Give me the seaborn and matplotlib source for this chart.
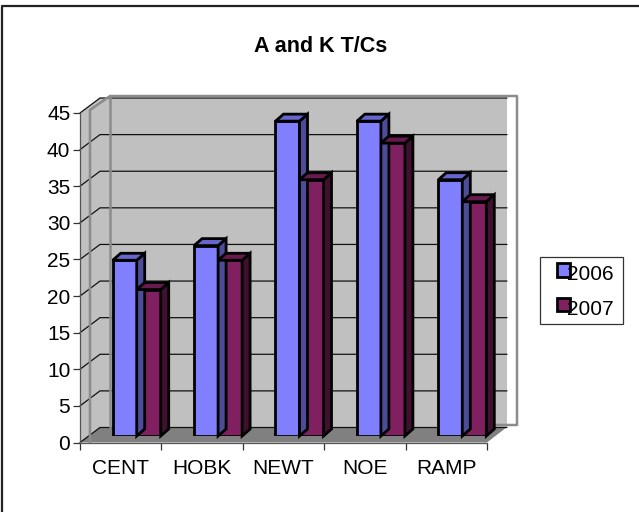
import pandas as pd
import matplotlib
matplotlib.use("Agg")
import matplotlib.pyplot as plt
from matplotlib.legend_handler import HandlerPatch
from matplotlib.patches import Polygon, Rectangle
import seaborn as sns

# values
sites = ["CENT", "HOBK", "NEWT", "NOE", "RAMP"]
vals_2006 = [24, 26, 43, 43, 35]
vals_2007 = [20, 24, 35, 40, 32]
y_ticks = [0, 5, 10, 15, 20, 25, 30, 35, 40, 45]

W, H = 639, 512
FONT = "Liberation Sans"
front = {"2006": "#8080FF", "2007": "#802060"}
top = {"2006": "#6666CC", "2007": "#661A4D"}
side = {"2006": "#4C4C99", "2007": "#40102F"}
BAR_LW = 2.0

sns.set_style("white")
plt.rcParams["font.family"] = FONT


def px_axes(fig, x0, y0, x1, y1):
    return fig.add_axes([x0 / W, 1 - y1 / H, (x1 - x0) / W, (y1 - y0) / H])


def raised_swatch(legend, orig_handle, xdescent, ydescent, width, height, fontsize):
    # swatches sit a little above the middle of the text
    return Rectangle((-xdescent, -ydescent + 2), width, height)


df = pd.DataFrame({
    "site": sites * 2,
    "year": ["2006"] * 5 + ["2007"] * 5,
    "n": vals_2006 + vals_2007,
})

fig = plt.figure(figsize=(W / 100, H / 100), dpi=100, facecolor="white")

# walls and floor, in pixels
bg = fig.add_axes([0, 0, 1, 1])
bg.set_xlim(0, W)
bg.set_ylim(H, 0)
bg.axis("off")
grey = "#C0C0C0"
bg.add_patch(Polygon([(100, 98), (507, 98), (507, 427), (100, 427)], fc=grey, ec="none"))
bg.add_patch(Polygon([(80, 113), (100, 98), (100, 427), (80, 442.5)], fc=grey, ec="none"))
for t in y_ticks:
    yy = 442.5 - t * 329.5 / 45
    bg.plot([80, 100, 507], [yy, yy - 15, yy - 15], color="#111111", lw=0.9)
# the pale frame sitting behind
bg.plot([90, 90, 110, 517, 517, 495], [442, 110, 96, 96, 425, 425], color="#8C8C8C", lw=1.8)
bg.plot([110, 110], [96, 427], color="#8C8C8C", lw=1.8)
bg.add_patch(Polygon([(80, 442.5), (100, 427), (507, 427), (487, 442.5)], fc="#808080", ec="none"))
# page border
bg.plot([1.5, 1.5, W], [H, 5.5, 5.5], color="#222222", lw=1.6)
# legend box
bg.add_patch(Rectangle((539.5, 257), 83, 67, fc="white", ec="#333333", lw=0.9))

# front axes carrying ticks
ax = px_axes(fig, 80, 113, 487, 442.5)
ax.patch.set_visible(False)
ax.set_xlim(0, 5)
ax.set_ylim(0, 45)
ax.set_yticks(y_ticks)
ax.set_xticks(range(6))
ax.set_xticklabels([])
ax.set_xticks([i + 0.5 for i in range(5)], minor=True)
ax.set_xticklabels(sites, minor=True, fontsize=15, fontfamily=FONT, color="black")
ax.tick_params(axis="x", which="major", length=5, width=0.9, color="#333333", bottom=True)
ax.tick_params(axis="x", which="minor", length=0, pad=12)
ax.tick_params(axis="y", length=5, width=0.9, color="#333333", left=True, pad=2, labelsize=15, labelcolor="black")
for s in ["top", "right"]:
    ax.spines[s].set_visible(False)
for s in ["left", "bottom"]:
    ax.spines[s].set_color("#555555")
    ax.spines[s].set_linewidth(0.9)

# bars sit a bit further back than the tick plane
bars = px_axes(fig, 96, 106.5, 503, 436)
bars.patch.set_visible(False)
sns.barplot(data=df, x="site", y="n", hue="year", palette=front, saturation=1,
            width=0.59, gap=0, edgecolor="black", linewidth=BAR_LW, ax=bars)
bars.set_xlim(-0.5, 4.5)
bars.set_ylim(0, 45)
bars.axis("off")

# 3d faces worked out from each bar
dx, dy = 8 * 5 / 407, 7 * 45 / 329.5
years = ["2006"] * 5 + ["2007"] * 5
for p, yr in zip(list(bars.patches)[:10], years):
    x0, y0 = p.get_x(), p.get_y()
    x1, y1 = x0 + p.get_width(), y0 + p.get_height()
    bars.add_patch(Polygon([(x1, y0), (x1 + dx, y0 + dy), (x1 + dx, y1 + dy), (x1, y1)],
                           fc=side[yr], ec="black", lw=BAR_LW, clip_on=False, zorder=p.get_zorder()))
    bars.add_patch(Polygon([(x0, y1), (x0 + dx, y1 + dy), (x1 + dx, y1 + dy), (x1, y1)],
                           fc=top[yr], ec="black", lw=BAR_LW, clip_on=False, zorder=p.get_zorder()))

# legend has no frame of its own, the box above is wider on the left than borderpad allows
sns.move_legend(bars, "upper left", bbox_to_anchor=(557 / W, 1 - 265 / H),
                bbox_transform=fig.transFigure, title=None, frameon=False, fontsize=15,
                labelcolor="black", borderaxespad=0, borderpad=0, labelspacing=0.75,
                handlelength=0.62, handleheight=0.62, handletextpad=-0.15,
                handler_map={Rectangle: HandlerPatch(patch_func=raised_swatch)})
bars.get_legend().set_zorder(20)
bars.set_zorder(5)

fig.text(321 / W, 1 - 47 / H, "A and K T/Cs", ha="center", va="center",
         fontsize=15.5, fontweight="bold", fontfamily=FONT, color="black")

fig.savefig("out.png", dpi=100)
